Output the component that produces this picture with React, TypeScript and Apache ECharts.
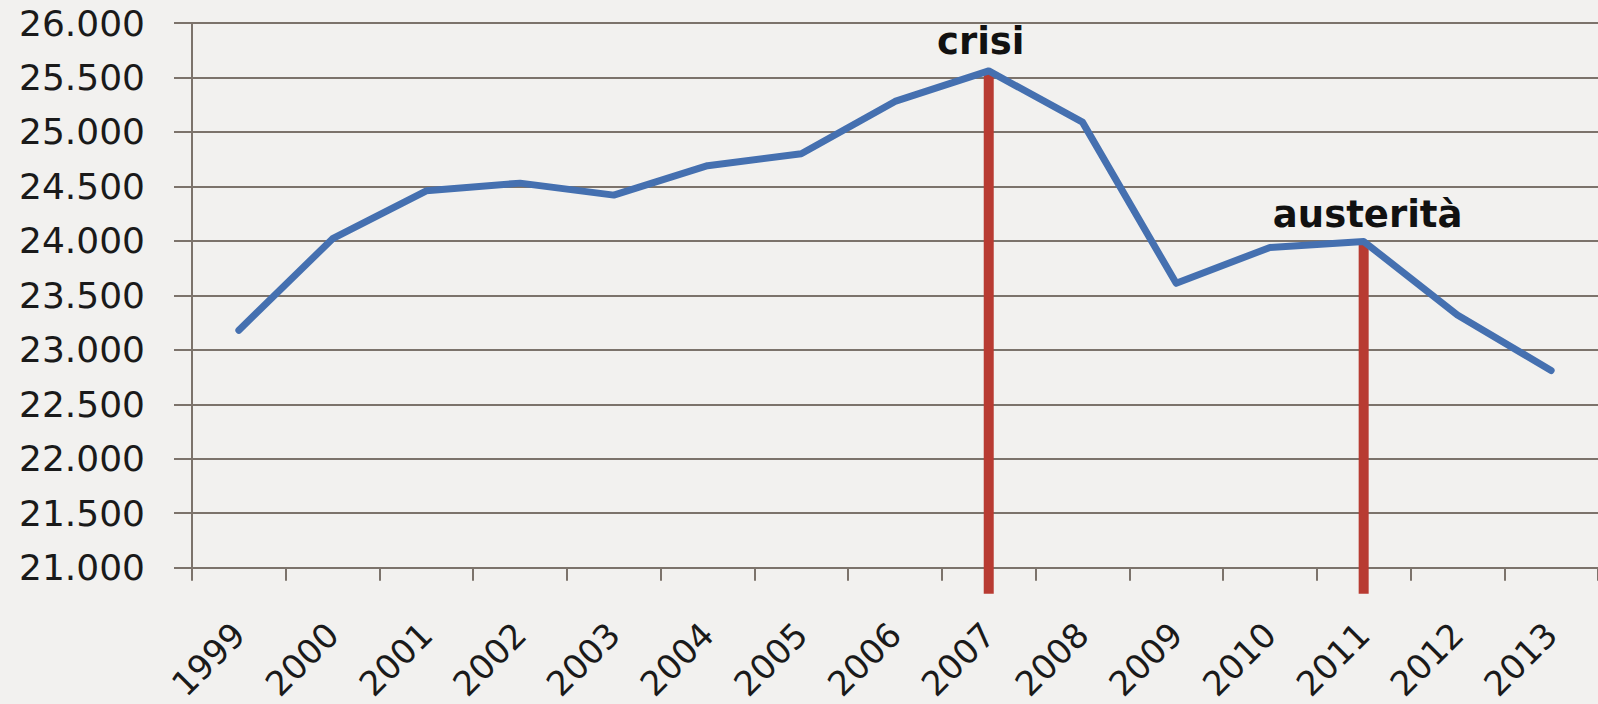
import React, { useEffect, useRef } from "react";
import * as echarts from "echarts";

const years = ["1999", "2000", "2001", "2002", "2003", "2004", "2005", "2006", "2007", "2008", "2009", "2010", "2011", "2012", "2013"];
const values = [23180, 24020, 24460, 24530, 24420, 24690, 24800, 25280, 25560, 25090, 23610, 23940, 23995, 23320, 22810];
const yMin = 21000;
const yMax = 26000;
const yStep = 500;
const annotations = [
  { year: "2007", text: "crisi" },
  { year: "2011", text: "austerità" },
];
const annotationOffsets: Record<string, number[]> = { "2007": [-8, 1], "2011": [4, 3] };

const fmt = (v: number) => {
  const s = String(Math.round(v));
  return s.replace(/\B(?=(\d{3})+(?!\d))/g, ".");
};

export default function App() {
  const ref = useRef<HTMLDivElement>(null);
  useEffect(() => {
    if (!ref.current) return;
    const chart = echarts.init(ref.current, undefined, { renderer: "svg" });
    const gridColor = "#7c736b";
    const font = "DejaVu Sans";
    const lineColor = "#4570b0";
    const lineData = values.map((v, i) => {
      const ann = annotations.find((a) => a.year === years[i]);
      if (!ann) return v;
      return {
        value: v,
        label: {
          show: true,
          formatter: ann.text,
          position: "top",
          distance: 11,
          offset: annotationOffsets[ann.year],
          fontSize: 37,
          fontWeight: "bold",
          fontFamily: font,
          color: "#111",
        },
      };
    });
    chart.setOption({
      animation: false,
      backgroundColor: "#f2f1ef",
      grid: { left: 192, top: 23, width: 1416, height: 545.5 },
      xAxis: {
        type: "category",
        data: years,
        boundaryGap: true,
        axisLine: { show: true, lineStyle: { color: gridColor, width: 2 } },
        axisTick: { show: true, interval: 0, length: 13, lineStyle: { color: gridColor, width: 2 } },
        axisLabel: {
          interval: 0,
          rotate: 45,
          margin: 61,
          fontSize: 34,
          fontFamily: font,
          color: "#1a1a1a",
        },
        splitLine: { show: false },
      },
      yAxis: {
        type: "value",
        min: yMin,
        max: yMax,
        interval: yStep,
        axisLine: { show: true, lineStyle: { color: gridColor, width: 2 } },
        axisTick: { show: true, length: 18, lineStyle: { color: gridColor, width: 2 } },
        axisLabel: {
          margin: 47,
          fontSize: 36,
          fontFamily: font,
          color: "#1a1a1a",
          formatter: (v: number) => fmt(v),
        },
        splitLine: { show: true, lineStyle: { color: gridColor, width: 2 } },
      },
      series: [
        {
          type: "custom",
          z: 2,
          clip: false,
          data: annotations.map((a) => [a.year, values[years.indexOf(a.year)]]),
          renderItem: (params: any, api: any) => {
            const top = api.coord([api.value(0), api.value(1)]);
            const base = api.coord([api.value(0), yMin]);
            return {
              type: "line",
              shape: { x1: top[0], y1: top[1], x2: top[0], y2: base[1] + 26 },
              style: { stroke: "#b83b32", lineWidth: 10 },
            };
          },
        },
        {
          type: "line",
          z: 3,
          data: lineData,
          symbol: "circle",
          symbolSize: 1,
          showSymbol: true,
          itemStyle: { color: lineColor },
          lineStyle: { color: lineColor, width: 7, join: "round", cap: "round" },
        },
      ],
    });
    return () => chart.dispose();
  }, []);
  return (
    <div
      ref={ref}
      style={{ position: "absolute", left: 0, top: 0, width: 1598, height: 704 }}
    />
  );
}
